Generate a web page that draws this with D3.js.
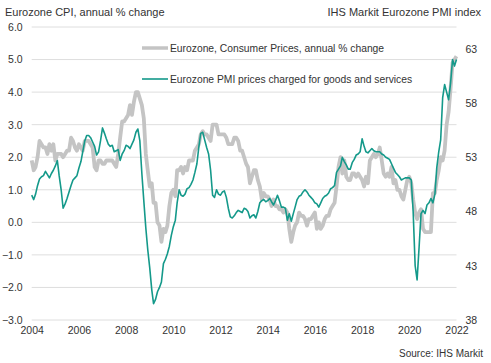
<!DOCTYPE html>
<html>
<head>
<meta charset="utf-8">
<script src="https://cdn.jsdelivr.net/npm/d3@7"></script>
<style>
body { margin: 0; background: #fff; }
text { font-family: "Liberation Sans", Arial, sans-serif; fill: #333; }
</style>
</head>
<body>
<div id="chart"></div>
<script>
// monthly, Jan 2004 .. Jan 2022
const cpi = [
    1.9, 1.6, 1.7, 2.0, 2.5, 2.4, 2.3, 2.3, 2.1, 2.4, 2.2, 2.4,
    1.9, 2.1, 2.1, 2.1, 2.0, 2.1, 2.2, 2.2, 2.6, 2.5, 2.3, 2.2,
    2.4, 2.3, 2.2, 2.5, 2.5, 2.5, 2.4, 2.3, 1.7, 1.6, 1.9, 1.9,
    1.8, 1.8, 1.9, 1.9, 1.9, 1.9, 1.8, 1.7, 2.1, 2.6, 3.1, 3.1,
    3.2, 3.3, 3.6, 3.3, 3.7, 4.0, 4.0, 3.8, 3.6, 3.2, 2.1, 1.6,
    1.1, 1.2, 0.6, 0.6, 0.0, -0.1, -0.6, -0.2, -0.3, -0.1, 0.5, 0.9,
    1.0, 0.8, 1.6, 1.6, 1.7, 1.5, 1.7, 1.6, 1.9, 1.9, 1.9, 2.2,
    2.3, 2.4, 2.7, 2.8, 2.7, 2.7, 2.6, 2.5, 3.0, 3.0, 3.0, 2.7,
    2.7, 2.7, 2.7, 2.6, 2.4, 2.4, 2.4, 2.6, 2.6, 2.5, 2.2, 2.2,
    2.0, 1.8, 1.7, 1.2, 1.4, 1.6, 1.6, 1.3, 1.1, 0.7, 0.9, 0.8,
    0.8, 0.7, 0.5, 0.7, 0.5, 0.5, 0.4, 0.4, 0.3, 0.4, 0.3, -0.2,
    -0.6, -0.3, -0.1, 0.0, 0.3, 0.2, 0.2, 0.1, -0.1, 0.1, 0.1, 0.2,
    0.3, -0.2, 0.0, -0.2, -0.1, 0.1, 0.2, 0.2, 0.4, 0.5, 0.6, 1.1,
    1.7, 2.0, 1.5, 1.9, 1.4, 1.3, 1.3, 1.5, 1.5, 1.4, 1.5, 1.4,
    1.3, 1.1, 1.4, 1.2, 1.9, 2.0, 2.1, 2.0, 2.1, 2.3, 1.9, 1.5,
    1.4, 1.5, 1.4, 1.7, 1.2, 1.3, 1.0, 1.0, 0.8, 0.7, 1.0, 1.3,
    1.4, 1.2, 0.7, 0.3, 0.1, 0.3, 0.4, -0.2, -0.3, -0.3, -0.3, -0.3,
    0.9, 0.9, 1.3, 1.6, 2.0, 1.9, 2.2, 3.0, 3.4, 4.1, 4.9, 5.0,
    5.1
]

const pmi = [
    49.5, 49.1, 49.6, 50.4, 51.0, 51.2, 51.3, 51.7, 51.4, 51.1, 51.5, 51.8,
    52.2, 52.7, 51.3, 50.0, 48.3, 48.7, 49.2, 49.8, 50.4, 50.9, 51.1, 51.3,
    52.0, 52.6, 53.5, 54.5, 55.0, 55.0, 54.8, 54.4, 54.0, 53.2, 53.5, 54.5,
    55.7, 55.2, 54.7, 54.2, 54.0, 54.1, 53.5, 53.6, 53.7, 52.7, 53.3, 53.6,
    54.1, 54.0, 53.8, 54.2, 54.6, 55.3, 55.6, 54.5, 51.5, 49.0, 46.5, 44.5,
    42.8, 40.8, 39.5, 39.9, 40.6, 41.0, 41.5, 43.2, 43.6, 44.1, 44.8, 45.8,
    46.6, 47.2, 48.8, 50.0, 49.5, 49.4, 49.6, 50.1, 50.2, 50.5, 50.9, 51.6,
    52.4, 54.0, 55.2, 55.3, 54.6, 53.9, 53.3, 51.8, 49.5, 49.3, 50.0, 49.6,
    49.5, 49.8, 49.9, 49.3, 48.3, 47.5, 47.4, 47.6, 47.9, 48.1, 48.0, 47.9,
    48.3, 48.2, 48.0, 47.4, 47.6, 47.7, 47.4, 48.0, 48.8, 49.0, 49.1, 48.9,
    49.0, 49.2, 48.9, 48.6, 49.0, 49.5, 49.0, 48.4, 48.4, 48.3, 47.2, 47.8,
    47.1, 47.8, 48.4, 49.1, 49.4, 49.5, 49.8, 50.0, 49.8, 49.5, 49.3, 49.1,
    48.8, 48.7, 48.4, 48.8, 49.2, 49.4, 49.5, 49.7, 50.1, 50.2, 50.4, 51.6,
    51.9, 52.2, 53.0, 52.6, 52.3, 51.9, 51.9, 52.5, 52.8, 53.2, 53.3, 53.5,
    54.7, 54.0, 53.5, 53.4, 53.6, 53.8, 53.6, 53.5, 53.5, 53.5, 53.3, 53.2,
    53.0, 52.9, 52.8, 52.4, 52.0, 51.6, 51.4, 51.2, 50.9, 51.0, 51.1, 51.1,
    51.1, 50.9, 48.0, 43.0, 41.7, 44.7, 47.8, 48.1, 47.8, 48.6, 48.8, 49.2,
    48.8, 49.6, 52.0, 53.5, 54.6, 58.5, 59.7, 59.0, 58.3, 59.8, 62.0, 61.4,
    62.0
]

const leftTicks = [-3, -2, -1, 0, 1, 2, 3, 4, 5, 6]
const rightTicks = [38, 43, 48, 53, 58, 63]
const yearTicks = [2004, 2006, 2008, 2010, 2012, 2014, 2016, 2018, 2020, 2022]

const width = 491
const height = 363
const plotLeft = 31.7, plotRight = 456.5, plotTop = 27, plotBottom = 320

const svg = d3.select("#chart")
    .append("svg")
    .attr("width", width)
    .attr("height", height)

const x = d3.scaleTime()
    .domain([new Date(2004, 0, 1), new Date(2022, 0, 1)])
    .range([plotLeft, plotRight])

const y = d3.scaleLinear()
    .domain([-3, 6])
    .range([plotBottom, plotTop])

const y2 = d3.scaleLinear()
    .domain([38, 65])
    .range([plotBottom, plotTop])

// gridlines
svg.append("g")
    .selectAll("line")
    .data(leftTicks)
    .enter().append("line")
    .attr("x1", plotLeft)
    .attr("x2", plotRight)
    .attr("y1", d => y(d))
    .attr("y2", d => y(d))
    .attr("stroke", "#dedede")
    .attr("stroke-width", 1)

// left axis
const yAxis = svg.append("g")
    .attr("transform", `translate(${plotLeft - 9},0)`)
    .call(d3.axisLeft(y).tickValues(leftTicks).tickSize(0).tickFormat(d3.format(".1f")))
yAxis.select(".domain").remove()
yAxis.selectAll("text").style("font-size", "10.5px").attr("x", 0)

// right axis
const y2Axis = svg.append("g")
    .attr("transform", `translate(${plotRight + 9},0)`)
    .call(d3.axisRight(y2).tickValues(rightTicks).tickSize(0))
y2Axis.select(".domain").remove()
y2Axis.selectAll("text").style("font-size", "10.5px").attr("x", 0)

// x axis
const xAxis = svg.append("g")
    .attr("transform", `translate(0,${plotBottom + 4})`)
    .call(d3.axisBottom(x).tickValues(yearTicks.map(d => new Date(d, 0, 1))).tickSize(0).tickFormat(d3.timeFormat("%Y")))
xAxis.select(".domain").remove()
xAxis.selectAll("text").style("font-size", "10.5px")

const dates = cpi.map((d, i) => new Date(2004, i, 1))

const cpiLine = d3.line()
    .x((d, i) => x(dates[i]))
    .y(d => y(d))

const pmiLine = d3.line()
    .x((d, i) => x(dates[i]))
    .y(d => y2(d))

svg.append("path")
    .datum(cpi)
    .attr("fill", "none")
    .attr("stroke", "#c4c4c4")
    .attr("stroke-width", 3.8)
    .attr("stroke-linejoin", "round")
    .attr("d", cpiLine)

svg.append("path")
    .datum(pmi)
    .attr("fill", "none")
    .attr("stroke", "#14998a")
    .attr("stroke-width", 1.6)
    .attr("stroke-linejoin", "round")
    .attr("d", pmiLine)

// titles
svg.append("text")
    .attr("x", 5)
    .attr("y", 16)
    .style("font-size", "11px")
    .text("Eurozone CPI, annual % change")

svg.append("text")
    .attr("x", 481)
    .attr("y", 16)
    .attr("text-anchor", "end")
    .style("font-size", "11px")
    .text("IHS Markit Eurozone PMI index")

svg.append("text")
    .attr("x", 483)
    .attr("y", 357)
    .attr("text-anchor", "end")
    .style("font-size", "10px")
    .text("Source: IHS Markit")

// legend
const legendKeys = [
    { name: "Eurozone, Consumer Prices, annual % change", color: "#c4c4c4", w: 3.5 },
    { name: "Eurozone PMI prices charged for goods and services", color: "#14998a", w: 1.6 }
]

const legend = svg.append("g")
    .attr("transform", "translate(142,48)")

legend.selectAll("line")
    .data(legendKeys)
    .enter().append("line")
    .attr("x1", 0)
    .attr("x2", 26)
    .attr("y1", (d, i) => i * 31)
    .attr("y2", (d, i) => i * 31)
    .attr("stroke", d => d.color)
    .attr("stroke-width", d => d.w)

legend.selectAll("text")
    .data(legendKeys)
    .enter().append("text")
    .attr("x", 28)
    .attr("y", (d, i) => i * 31)
    .attr("dy", "0.35em")
    .style("font-size", "10.3px")
    .text(d => d.name)
</script>
</body>
</html>
